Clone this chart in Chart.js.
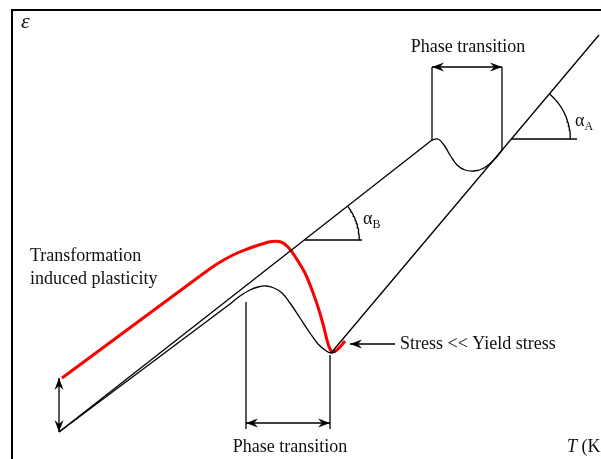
<!DOCTYPE html>
<html>
<head>
<meta charset="utf-8">
<script src="https://cdn.jsdelivr.net/npm/chart.js@4/dist/chart.umd.min.js"></script>
<style>
  html, body { margin: 0; padding: 0; background: #fff; }
  #wrap { width: 601px; height: 459px; }
</style>
</head>
<body>
<div id="wrap"><canvas id="c" width="601" height="459"></canvas></div>
<script>
// Strain ε versus temperature T (schematic units: T to the right, ε upwards)

// plot frame (left and top rules)
const frame = [[12, 0], [12, 449], [601, 449]];

// low-slope branch ending at the upper transition (angle α_B)
const branchB = [[59, 27], [432, 319]];
// dip across the upper phase transition
const dipUpper = [[432, 319], [438, 320], [444, 314], [450, 304], [457, 294], [465, 289],
                  [474, 288], [484, 291], [494, 299], [503, 310]];
// steep branch (angle α_A)
const branchA = [[331, 106], [599, 424]];

// lower path: straight rise then dip across the lower phase transition
const lowerRise = [[59, 27], [230, 155]];
const dipLower = [[230, 155], [240, 163], [250, 169], [258, 172], [266, 173], [274, 171],
                  [282, 166], [290, 156], [300, 141], [310, 126], [318, 115], [325, 109],
                  [331, 106], [336, 108]];

// transformation induced plasticity path
const tripRise = [[62, 81], [200, 183]];
const tripCurve = [[200, 183], [217, 195], [233, 204], [250, 211], [262, 215], [272, 217.5],
                   [281, 217], [288, 212], [296, 201], [305, 186], [312, 169], [318, 152],
                   [323, 135], [327, 119], [330, 110], [333, 107], [338, 110], [345, 118]];

// phase transition bounds
const lowerBounds = { from: 246, to: 330, tops: [157, 104], base: 30, arrowAt: 36 };
const upperBounds = { from: 432, to: 502, bases: [319, 308], top: 392, arrowAt: 392 };

// TRIP offset marker and pointer to the stress note
const tripOffset = [[59, 81], [59, 27]];
const stressPointer = [[395, 115], [350, 115]];

// angle markers: level of the horizontal, its end, arc radius
const angleA = { line: branchA, level: 320, end: 577, radius: 59 };
const angleB = { line: branchB, level: 219, end: 362, radius: 55 };

const pts = a => a.map(([x, y]) => ({ x, y }));

function arrowHead(color) {
  const c = document.createElement('canvas');
  c.width = 28; c.height = 28;
  const g = c.getContext('2d');
  g.fillStyle = color;
  g.beginPath();
  g.moveTo(14, 14);
  g.lineTo(2, 9.5);
  g.lineTo(6, 14);
  g.lineTo(2, 18.5);
  g.closePath();
  g.fill();
  return c;
}
const head = arrowHead('#000');

function angleMarker(m) {
  const [[x0, y0], [x1, y1]] = m.line;
  const slope = (y1 - y0) / (x1 - x0);
  const vx = x0 + (m.level - y0) / slope;
  const theta = Math.atan(slope);
  const arc = [];
  for (let k = 0; k <= 24; k++) {
    const a = theta * k / 24;
    arc.push([vx + m.radius * Math.cos(a), m.level + m.radius * Math.sin(a)]);
  }
  return { horizontal: [[vx, m.level], [m.end, m.level]], arc };
}
const mA = angleMarker(angleA);
const mB = angleMarker(angleB);

const black = '#000';
const red = 'rgb(250,0,0)';

function line(data, opts = {}) {
  return Object.assign({
    data: pts(data), showLine: true, borderColor: black, borderWidth: 1.3,
    pointRadius: 0, tension: 0, fill: false
  }, opts);
}
function doubleArrow(a, b, rotA, rotB) {
  return line([a, b], { pointStyle: head, pointRadius: 4, rotation: [rotA, rotB] });
}

const datasets = [
  line(frame, { borderWidth: 2 }),
  line(branchB),
  line(dipUpper, { tension: 0.4 }),
  line(branchA),
  line(lowerRise),
  line(dipLower, { tension: 0.4 }),
  line(tripRise, { borderColor: red, borderWidth: 3 }),
  line(tripCurve, { borderColor: red, borderWidth: 3, tension: 0.4 }),
  line([[lowerBounds.from, lowerBounds.tops[0]], [lowerBounds.from, lowerBounds.base]]),
  line([[lowerBounds.to, lowerBounds.tops[1]], [lowerBounds.to, lowerBounds.base]]),
  doubleArrow([lowerBounds.from, lowerBounds.arrowAt], [lowerBounds.to, lowerBounds.arrowAt], 180, 0),
  line([[upperBounds.from, upperBounds.bases[0]], [upperBounds.from, upperBounds.top]]),
  line([[upperBounds.to, upperBounds.bases[1]], [upperBounds.to, upperBounds.top]]),
  doubleArrow([upperBounds.from, upperBounds.arrowAt], [upperBounds.to, upperBounds.arrowAt], 180, 0),
  doubleArrow(tripOffset[0], tripOffset[1], -90, 90),
  line(stressPointer, { pointStyle: head, pointRadius: [0, 4], rotation: [0, 180] }),
  line(mA.horizontal), line(mA.arc),
  line(mB.horizontal), line(mB.arc)
];

// text annotations in (T, ε) coordinates
const serif = '"Liberation Serif", "Times New Roman", serif';
const notes = [
  { parts: [['ε', 'italic 22px']], x: 21, y: 431, align: 'left' },
  { parts: [['Phase transition', '18px']], x: 468, y: 407, align: 'center' },
  { parts: [['Phase transition', '18px']], x: 290, y: 7, align: 'center' },
  { parts: [['Transformation', '18px']], x: 30, y: 198, align: 'left' },
  { parts: [['induced plasticity', '18px']], x: 30, y: 175, align: 'left' },
  { parts: [['Stress << Yield stress', '18px']], x: 400, y: 110, align: 'left' },
  { parts: [['α', '18px'], ['A', '12px', 4]], x: 575, y: 333, align: 'left' },
  { parts: [['α', '18px'], ['B', '12px', 4]], x: 363, y: 235, align: 'left' },
  { parts: [['T', 'italic 18px'], [' (K)', '18px']], x: 567, y: 7, align: 'left' }
];

const notePlugin = {
  id: 'notes',
  afterDatasetsDraw(chart) {
    const { ctx, scales } = chart;
    ctx.save();
    ctx.fillStyle = '#111';
    ctx.textBaseline = 'alphabetic';
    for (const n of notes) {
      const px = scales.x.getPixelForValue(n.x);
      const py = scales.y.getPixelForValue(n.y);
      let width = 0;
      for (const [t, f] of n.parts) { ctx.font = f + ' ' + serif; width += ctx.measureText(t).width; }
      let cx = n.align === 'center' ? px - width / 2 : px;
      ctx.textAlign = 'left';
      for (const [t, f, dy] of n.parts) {
        ctx.font = f + ' ' + serif;
        ctx.fillText(t, cx, py + (dy || 0));
        cx += ctx.measureText(t).width;
      }
    }
    ctx.restore();
  }
};

new Chart(document.getElementById('c'), {
  type: 'scatter',
  data: { datasets },
  options: {
    responsive: false,
    animation: false,
    events: [],
    layout: { padding: 0, autoPadding: false },
    plugins: { legend: { display: false }, tooltip: { enabled: false } },
    scales: {
      x: { type: 'linear', min: 0, max: 601, display: false },
      y: { type: 'linear', min: 0, max: 459, display: false }
    }
  },
  plugins: [notePlugin]
});
</script>
</body>
</html>
